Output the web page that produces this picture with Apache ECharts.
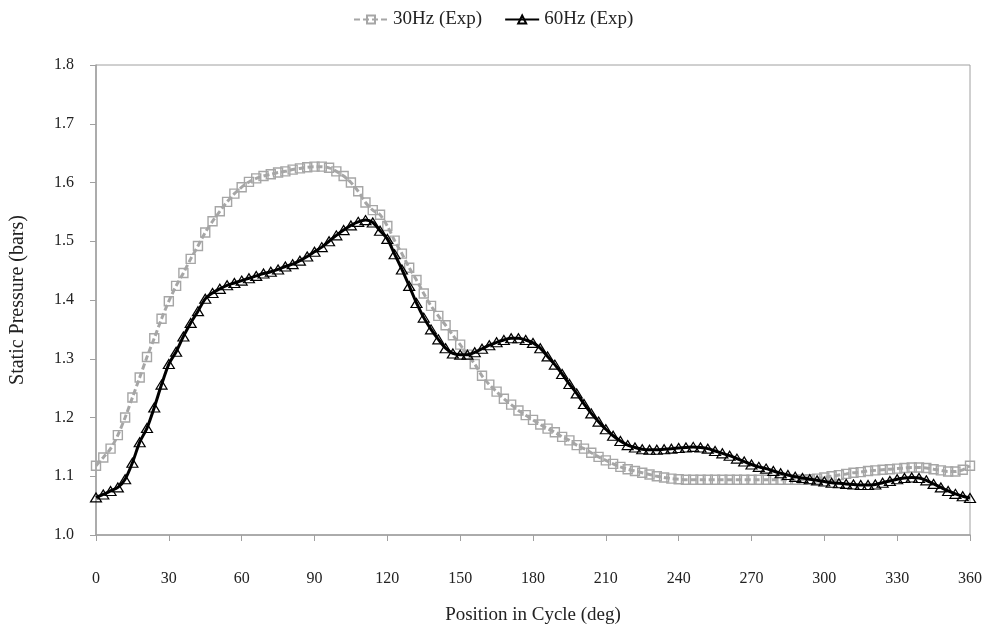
<!DOCTYPE html>
<html>
<head>
<meta charset="utf-8">
<script src="https://cdn.jsdelivr.net/npm/echarts@6/dist/echarts.min.js"></script>
<style>
html,body{margin:0;padding:0;background:#fff;}
#chart{width:988px;height:630px;}
</style>
</head>
<body>
<div id="chart"></div>
<script>
const degrees = [0,3,6,9,12,15,18,21,24,27,30,33,36,39,42,45,48,51,54,57,60,63,66,69,72,75,78,81,84,87,90,93,96,99,102,105,108,111,114,117,120,123,126,129,132,135,138,141,144,147,150,153,156,159,162,165,168,171,174,177,180,183,186,189,192,195,198,201,204,207,210,213,216,219,222,225,228,231,234,237,240,243,246,249,252,255,258,261,264,267,270,273,276,279,282,285,288,291,294,297,300,303,306,309,312,315,318,321,324,327,330,333,336,339,342,345,348,351,354,357,360];

const p30Hz = [1.118,1.132,1.147,1.170,1.200,1.234,1.268,1.303,1.335,1.368,1.398,1.424,1.446,1.470,1.492,1.515,1.534,1.551,1.567,1.581,1.592,1.601,1.607,1.611,1.614,1.617,1.619,1.622,1.624,1.626,1.627,1.627,1.625,1.619,1.611,1.600,1.585,1.566,1.553,1.545,1.526,1.501,1.479,1.455,1.434,1.411,1.390,1.373,1.357,1.340,1.324,1.307,1.291,1.271,1.256,1.244,1.232,1.222,1.212,1.204,1.196,1.188,1.181,1.175,1.167,1.161,1.153,1.147,1.140,1.133,1.127,1.121,1.116,1.112,1.109,1.106,1.103,1.100,1.098,1.096,1.095,1.094,1.094,1.094,1.094,1.094,1.094,1.094,1.094,1.094,1.094,1.094,1.094,1.094,1.094,1.094,1.094,1.094,1.095,1.096,1.098,1.100,1.102,1.104,1.106,1.107,1.109,1.110,1.111,1.112,1.113,1.114,1.115,1.115,1.114,1.112,1.110,1.108,1.108,1.111,1.118];

const p60Hz = [1.064,1.069,1.075,1.081,1.095,1.123,1.158,1.182,1.217,1.256,1.291,1.312,1.338,1.361,1.381,1.402,1.412,1.419,1.425,1.429,1.433,1.437,1.441,1.445,1.448,1.452,1.457,1.461,1.467,1.474,1.482,1.490,1.500,1.510,1.519,1.527,1.533,1.536,1.532,1.518,1.504,1.478,1.452,1.424,1.395,1.370,1.350,1.333,1.318,1.309,1.307,1.307,1.311,1.317,1.323,1.328,1.332,1.335,1.335,1.332,1.327,1.318,1.304,1.290,1.274,1.257,1.241,1.223,1.207,1.193,1.180,1.169,1.160,1.153,1.149,1.146,1.145,1.145,1.146,1.147,1.148,1.149,1.150,1.149,1.147,1.143,1.139,1.135,1.130,1.125,1.120,1.116,1.113,1.109,1.105,1.102,1.099,1.097,1.095,1.093,1.091,1.089,1.088,1.087,1.086,1.085,1.085,1.086,1.089,1.092,1.095,1.097,1.098,1.097,1.093,1.087,1.081,1.075,1.070,1.066,1.063];

const seriesNames = ['30Hz (Exp)', '60Hz (Exp)'];
const xTicks = [0,30,60,90,120,150,180,210,240,270,300,330,360];
const yTicks = [1.0,1.1,1.2,1.3,1.4,1.5,1.6,1.7,1.8];

const FONT = '"Liberation Serif", "DejaVu Serif", serif';
const AXIS_COLOR = '#a0a0a0';

const chart = echarts.init(document.getElementById('chart'), null, {renderer: 'canvas'});

function pairs(xs, ys) { return xs.map((x, i) => [x, ys[i]]); }

chart.setOption({
  backgroundColor: '#ffffff',
  animation: false,
  textStyle: {fontFamily: FONT},
  legend: {
    top: 5,
    left: 348,
    itemGap: 22,
    itemWidth: 34,
    itemHeight: 10,
    textStyle: {fontFamily: FONT, fontSize: 19, color: '#222'},
    data: seriesNames
  },
  grid: {
    left: 96, right: 18, top: 65, bottom: 95,
    show: true, borderColor: AXIS_COLOR, borderWidth: 1, backgroundColor: 'transparent'
  },
  xAxis: {
    type: 'value',
    min: xTicks[0], max: xTicks[xTicks.length - 1], interval: 30,
    name: 'Position in Cycle (deg)',
    nameLocation: 'middle', nameGap: 71,
    nameTextStyle: {fontFamily: FONT, fontSize: 19, color: '#222'},
    axisLine: {show: true, lineStyle: {color: AXIS_COLOR, width: 1.5}},
    axisTick: {show: true, inside: false, length: 6, lineStyle: {color: AXIS_COLOR}},
    axisLabel: {margin: 36, fontFamily: FONT, fontSize: 16, color: '#222'},
    splitLine: {show: false}
  },
  yAxis: {
    type: 'value',
    min: yTicks[0], max: yTicks[yTicks.length - 1], interval: 0.1,
    name: 'Static Pressure (bars)',
    nameLocation: 'middle', nameGap: 68, nameRotate: 90,
    nameTextStyle: {fontFamily: FONT, fontSize: 20, color: '#222'},
    axisLine: {show: true, lineStyle: {color: AXIS_COLOR, width: 1.5}},
    axisTick: {show: true, inside: false, length: 6, lineStyle: {color: AXIS_COLOR}},
    axisLabel: {margin: 22, fontFamily: FONT, fontSize: 16, color: '#222',
      formatter: v => v.toFixed(1)},
    splitLine: {show: false}
  },
  series: [
    {
      name: seriesNames[0],
      type: 'line',
      smooth: 0.3,
      data: pairs(degrees, p30Hz),
      symbol: 'rect',
      symbolSize: 9,
      showAllSymbol: true,
      lineStyle: {color: '#a6a6a6', width: 3, type: [6, 3]},
      itemStyle: {color: 'rgba(255,255,255,0)', borderColor: '#a6a6a6', borderWidth: 1.4},
      z: 2
    },
    {
      name: seriesNames[1],
      type: 'line',
      smooth: 0.3,
      data: pairs(degrees, p60Hz),
      symbol: 'triangle',
      symbolSize: [11, 9],
      showAllSymbol: true,
      lineStyle: {color: '#000000', width: 3},
      itemStyle: {color: 'rgba(255,255,255,0)', borderColor: '#000000', borderWidth: 1.2},
      z: 3
    }
  ]
});
</script>
</body>
</html>
